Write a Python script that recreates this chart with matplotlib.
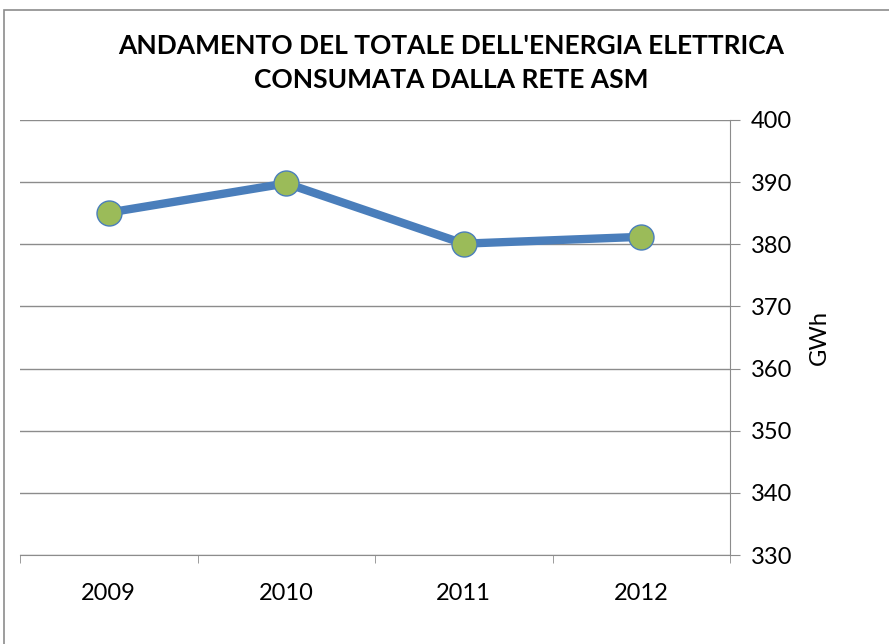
import matplotlib.pyplot as plt
from matplotlib.patches import Rectangle

years = ['2009', '2010', '2011', '2012']
consumo = [385.1, 389.8, 380.1, 381.2]
y_ticks = [330, 340, 350, 360, 370, 380, 390, 400]

plt.rcParams['font.family'] = ['Lato', 'DejaVu Sans']

fig = plt.figure(figsize=(8.89, 6.44), dpi=100)
W, H = 889, 644
ax = fig.add_axes([20 / W, 1 - 555 / H, 710 / W, 435 / H])

# cornice esterna del grafico
fig.patches.append(Rectangle((4 / W, -0.01), 1.0, 1 - 10 / H + 0.01,
                             transform=fig.transFigure, fill=False,
                             edgecolor='#8c8c8c', linewidth=1.2))

x = range(len(years))
ax.plot(x, consumo, color='#4a7ebb', linewidth=6, marker='o', markersize=18,
        markerfacecolor='#9bbb59', markeredgecolor='#4a7ebb', markeredgewidth=1,
        solid_capstyle='round', zorder=3)

ax.set_xlim(-0.5, len(years) - 0.5)
ax.set_ylim(330, 400)
ax.set_yticks(y_ticks)
ax.yaxis.tick_right()
ax.yaxis.set_label_position('right')
ax.grid(axis='y', color='#8c8c8c', linewidth=1)
ax.set_axisbelow(True)

ax.set_xticks(list(x))
ax.set_xticklabels(years)
ax.set_xticks([i - 0.5 for i in range(len(years) + 1)], minor=True)
ax.tick_params(axis='x', which='major', length=0, pad=20, labelsize=17)
ax.tick_params(axis='x', which='minor', length=6, color='#8c8c8c', direction='out')
ax.tick_params(axis='y', length=7, color='#8c8c8c', pad=8, labelsize=17)

for side in ['top', 'left']:
    ax.spines[side].set_visible(False)
ax.spines['right'].set_color('#8c8c8c')
ax.spines['bottom'].set_color('#8c8c8c')

ax.set_ylabel('GWh', fontsize=17, labelpad=12)

fig.text(451 / W, 1 - 63 / H,
         "ANDAMENTO DEL TOTALE DELL'ENERGIA ELETTRICA\nCONSUMATA DALLA RETE ASM",
         ha='center', va='center', fontsize=19, fontweight='bold', linespacing=1.5)

fig.savefig('out.png', dpi=100)
